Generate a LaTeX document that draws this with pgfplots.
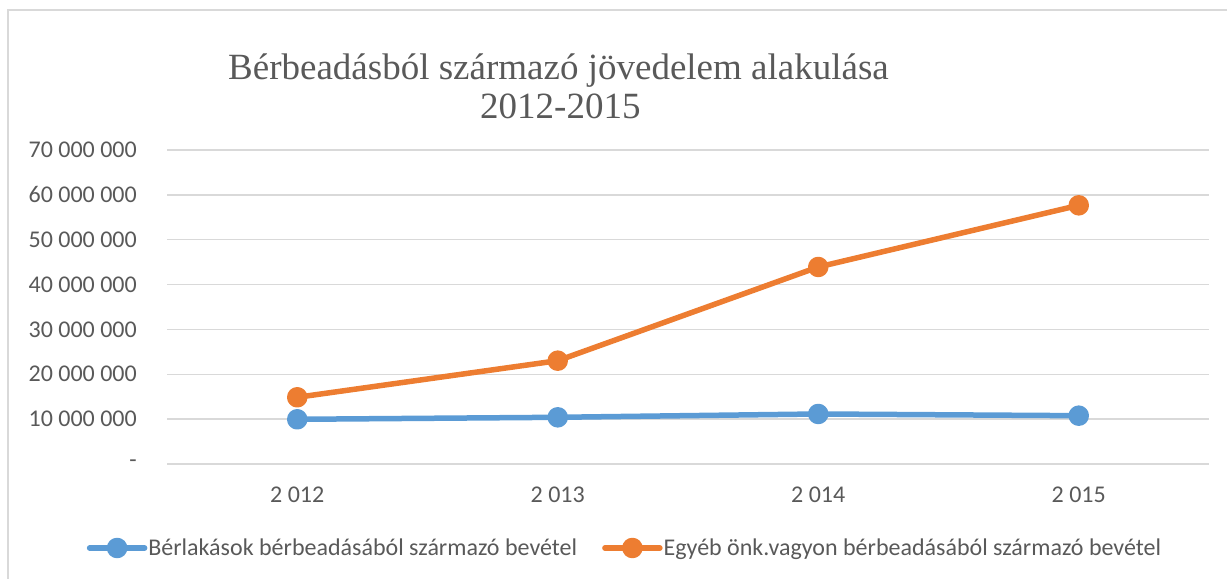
\documentclass[border=0pt]{standalone}
\usepackage{pgfplots}
\pgfplotsset{compat=1.18}
\usepackage{fontspec}
\setmainfont{Carlito}
\newfontfamily\titlefont{Liberation Serif}
\definecolor{txt}{HTML}{595959}
\definecolor{gridc}{HTML}{D9D9D9}
\definecolor{cblue}{HTML}{5B9BD5}
\definecolor{corange}{HTML}{ED7D31}
\begin{document}
\begin{tikzpicture}
\path[use as bounding box] (0bp,0bp) rectangle (1227bp,579bp);
\draw[gridc, line width=2bp] (1230bp,568.5bp) -- (8bp,568.5bp) -- (8bp,-3bp);
\node[anchor=base west, inner sep=0pt, text=txt, font=\titlefont\fontsize{37bp}{42bp}\selectfont] at (228bp,499bp) {Bérbeadásból származó jövedelem alakulása};
\node[anchor=base west, inner sep=0pt, text=txt, font=\titlefont\fontsize{37bp}{42bp}\selectfont] at (480bp,460bp) {2012-2015};
\begin{axis}[
  at={(167bp,115bp)}, anchor=south west,
  scale only axis, width=1042bp, height=314bp,
  xmin=-0.5, xmax=3.5, ymin=0, ymax=70000000,
  scaled y ticks=false,
  xtick={0,1,2,3}, xticklabels={2 012,2 013,2 014,2 015},
  ytick={0,10000000,20000000,30000000,40000000,50000000,60000000,70000000},
  yticklabels={-,10 000 000,20 000 000,30 000 000,40 000 000,50 000 000,60 000 000,70 000 000},
  ymajorgrids, grid style={gridc, line width=1.5bp},
  axis line style={draw=none},
  major tick length=0pt,
  tick label style={font=\fontsize{24bp}{28bp}\selectfont, text=txt, inner sep=0pt},
  yticklabel style={anchor=east, xshift=-30bp},
  xticklabel style={anchor=north, yshift=-22.7bp},
  clip=false,
  legend columns=2,
  legend style={at={(-0.0771,-0.2675)}, anchor=west, draw=none, fill=none, inner sep=0pt,
    font=\fontsize{24bp}{28bp}\selectfont, text=txt,
    nodes={inner sep=0pt},
    /tikz/every odd column/.append style={column sep=1bp},
    /tikz/every even column/.append style={column sep=25bp}},
  legend image code/.code={\draw[mark repeat=2,mark phase=2,#1] plot coordinates {(0bp,0bp) (27.5bp,0bp) (55bp,0bp)};},
  every axis plot/.append style={line width=5.5bp, line cap=round, line join=round, mark=*, mark size=7.5bp, mark options={line width=0pt}},
]
\addplot[cblue, mark options={fill=cblue, draw=cblue}] coordinates {(0,9965000) (1,10410000) (2,11150000) (3,10770000)};
\addlegendentry{Bérlakások bérbeadásából származó bevétel}
\addplot[corange, mark options={fill=corange, draw=corange}] coordinates {(0,14870000) (1,23030000) (2,43920000) (3,57670000)};
\addlegendentry{Egyéb önk.vagyon bérbeadásából származó bevétel}
\end{axis}
\end{tikzpicture}
\end{document}
